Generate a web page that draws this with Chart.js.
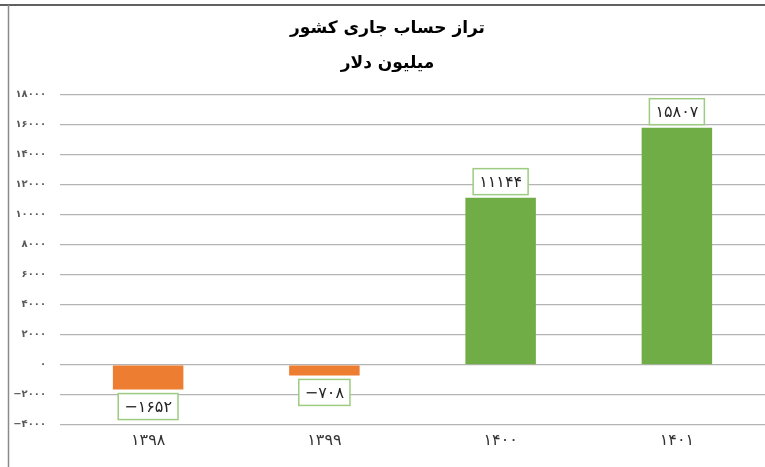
<!DOCTYPE html>
<html>
<head>
<meta charset="utf-8">
<script src="https://cdn.jsdelivr.net/npm/chart.js@4"></script>
<style>
  html, body { margin: 0; padding: 0; background: #fff; }
  #wrap { width: 765px; height: 467px; }
</style>
</head>
<body>
<div id="wrap"><canvas id="myChart" width="765" height="467"></canvas></div>
<script>
// داده‌ها
const years = ['1398', '1399', '1400', '1401'];
const balance = [-1652, -708, 11144, 15807];
const yMin = -4000;
const yMax = 18000;
const yStep = 2000;

const faDigits = '۰۱۲۳۴۵۶۷۸۹';
function toFa(v) {
  const s = String(Math.abs(v)).replace(/[0-9]/g, d => faDigits[d]);
  return (v < 0 ? '−' : '') + s;
}

// frame lines (top + left)
const framePlugin = {
  id: 'frame',
  afterDraw(chart) {
    const ctx = chart.ctx;
    ctx.save();
    ctx.strokeStyle = '#606060';
    ctx.lineWidth = 2;
    ctx.beginPath();
    ctx.moveTo(0, 5);
    ctx.lineTo(chart.width, 5);
    ctx.stroke();
    ctx.strokeStyle = '#8a8a8a';
    ctx.lineWidth = 1.5;
    ctx.beginPath();
    ctx.moveTo(8.5, 5);
    ctx.lineTo(8.5, chart.height);
    ctx.stroke();
    ctx.restore();
  }
};

// value labels in boxes
const boxLabels = {
  id: 'boxLabels',
  afterDatasetsDraw(chart) {
    const ctx = chart.ctx;
    const meta = chart.getDatasetMeta(0);
    ctx.save();
    ctx.font = '16px "DejaVu Sans"';
    ctx.textAlign = 'center';
    ctx.textBaseline = 'middle';
    meta.data.forEach((bar, i) => {
      const v = balance[i];
      const txt = toFa(v);
      const w = ctx.measureText(txt).width + 12;
      const h = 26;
      let top;
      if (v >= 0) top = bar.y - 3 - h;
      else top = bar.y + 4;
      const left = bar.x - w / 2;
      ctx.fillStyle = '#ffffff';
      ctx.fillRect(left, top, w, h);
      ctx.strokeStyle = '#9dcc80';
      ctx.lineWidth = 1.5;
      ctx.strokeRect(left, top, w, h);
      ctx.fillStyle = '#262626';
      ctx.fillText(txt, bar.x, top + h / 2 + 1);
    });
    ctx.restore();
  }
};

const ctx = document.getElementById('myChart').getContext('2d');
const myChart = new Chart(ctx, {
  type: 'bar',
  data: {
    labels: years.map(y => toFa(y)),
    datasets: [{
      data: balance,
      backgroundColor: balance.map(v => v < 0 ? '#ED7D31' : '#70AD47'),
      categoryPercentage: 1,
      barPercentage: 0.4
    }]
  },
  options: {
    responsive: false,
    animation: false,
    layout: { padding: { left: 10, right: 0, top: 10, bottom: 19 } },
    plugins: {
      legend: { display: false },
      tooltip: { enabled: false },
      title: {
        display: true,
        text: 'تراز حساب جاری کشور',
        color: '#000',
        font: { family: 'DejaVu Sans', size: 17, weight: 'bold' },
        padding: { top: 8, bottom: 8 }
      },
      subtitle: {
        display: true,
        text: 'میلیون دلار',
        color: '#000',
        font: { family: 'DejaVu Sans', size: 17, weight: 'bold' },
        padding: { top: 7, bottom: 21 }
      }
    },
    scales: {
      x: {
        grid: { display: false },
        border: { display: false },
        ticks: {
          color: '#333',
          padding: -2,
          font: { family: 'DejaVu Sans', size: 16 }
        }
      },
      y: {
        min: yMin,
        max: yMax,
        afterFit(scale) { scale.width = 50; },
        grid: { color: '#b4b4b4', lineWidth: 1.2, drawTicks: false },
        border: { display: false },
        ticks: {
          stepSize: yStep,
          padding: 14,
          color: '#595959',
          font: { family: 'DejaVu Sans', size: 10, weight: 'bold' },
          callback: v => toFa(v)
        }
      }
    }
  },
  plugins: [framePlugin, boxLabels]
});
</script>
</body>
</html>
